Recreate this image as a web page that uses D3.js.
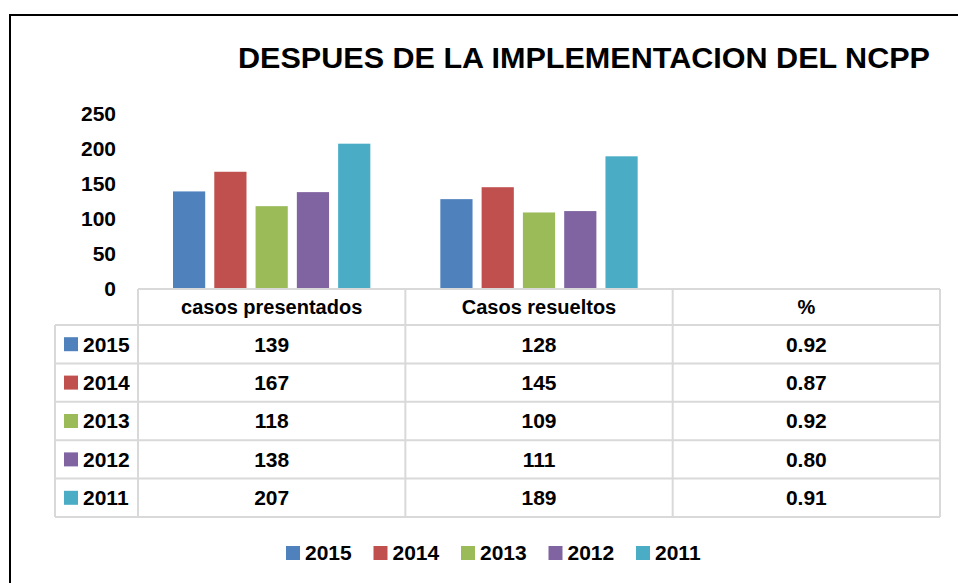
<!DOCTYPE html>
<html>
<head>
<meta charset="utf-8">
<script src="https://cdn.jsdelivr.net/npm/d3@7"></script>
<style>
  body { margin: 0; background: #fff; }
  text { font-family: "Liberation Sans", Arial, sans-serif; font-weight: bold; fill: #000; }
</style>
</head>
<body>
<div id="container"></div>
<script>
/* DATA */
const categories = ["casos presentados", "Casos resueltos", "%"]
const years = ["2015", "2014", "2013", "2012", "2011"]
const presentados = [139, 167, 118, 138, 207]
const resueltos = [128, 145, 109, 111, 189]
const porcentaje = [0.92, 0.87, 0.92, 0.80, 0.91]
const pctLabels = ["0.92", "0.87", "0.92", "0.80", "0.91"]
const yTicks = [0, 50, 100, 150, 200, 250]
const colors = ["#4F81BD", "#C0504D", "#9BBB59", "#8064A2", "#4BACC6"]

const seriesByCat = [presentados, resueltos, porcentaje]
const labelsByCat = [presentados.map(String), resueltos.map(String), pctLabels]

/* CONSTANTS */
const width = 958, height = 583
const plot = { left: 138, right: 940, top: 113.5, bottom: 289 }
const table = { keyLeft: 55, headTop: 289, headBottom: 325, bottom: 517 }
const gridColor = "#d9d9d9"

const svg = d3.select("#container").append("svg")
  .attr("width", width)
  .attr("height", height)

// outer chart frame (only top and left visible)
svg.append("path")
  .attr("d", `M10,${height} L10,15 L${width},15`)
  .attr("fill", "none")
  .attr("stroke", "#000")
  .attr("stroke-width", 2)

// TITLE
svg.append("text")
  .attr("x", 238)
  .attr("y", 68)
  .attr("font-size", 29)
  .attr("textLength", 692)
  .attr("lengthAdjust", "spacingAndGlyphs")
  .text("DESPUES DE LA IMPLEMENTACION DEL NCPP")

// SCALES
const xScale = d3.scaleBand()
  .domain(categories)
  .range([plot.left, plot.right])

const xInner = d3.scaleBand()
  .domain(years)
  .range([35, xScale.bandwidth() - 35])
  .paddingInner(0.22)

const yScale = d3.scaleLinear()
  .domain([0, 250])
  .range([plot.bottom, plot.top])

// Y AXIS (labels only)
const yAxis = d3.axisLeft(yScale)
  .tickValues(yTicks)
  .tickSize(0)
  .tickPadding(0)

const yAxisGroup = svg.append("g")
  .attr("transform", `translate(116, 0)`)
  .call(yAxis)
yAxisGroup.select(".domain").remove()
yAxisGroup.selectAll("text")
  .attr("font-size", 21)
  .attr("font-family", null)
  .attr("fill", "#000")

// BARS
const catGroups = svg.selectAll(".cat")
  .data(categories)
  .join("g")
  .attr("class", "cat")
  .attr("transform", d => `translate(${xScale(d)}, 0)`)

catGroups.selectAll("rect")
  .data((c, ci) => years.map((y, i) => ({ year: y, value: seriesByCat[ci][i], color: colors[i] })))
  .join("rect")
  .attr("x", d => xInner(d.year))
  .attr("width", xInner.bandwidth())
  .attr("y", d => yScale(d.value))
  .attr("height", d => yScale(0) - yScale(d.value))
  .attr("fill", d => d.color)

// DATA TABLE
const rowScale = d3.scaleBand()
  .domain(years)
  .range([table.headBottom, table.bottom])

const grid = svg.append("g")
  .attr("stroke", gridColor)
  .attr("stroke-width", 2)
  .attr("fill", "none")

// horizontal lines
grid.append("line")
  .attr("x1", plot.left).attr("x2", plot.right)
  .attr("y1", table.headTop).attr("y2", table.headTop)
rowScale.domain().forEach(y => {
  grid.append("line")
    .attr("x1", table.keyLeft).attr("x2", plot.right)
    .attr("y1", rowScale(y)).attr("y2", rowScale(y))
})
grid.append("line")
  .attr("x1", table.keyLeft).attr("x2", plot.right)
  .attr("y1", table.bottom).attr("y2", table.bottom)

// vertical lines
grid.append("line")
  .attr("x1", table.keyLeft).attr("x2", table.keyLeft)
  .attr("y1", table.headBottom).attr("y2", table.bottom)
categories.forEach(c => {
  grid.append("line")
    .attr("x1", xScale(c)).attr("x2", xScale(c))
    .attr("y1", table.headTop).attr("y2", table.bottom)
})
grid.append("line")
  .attr("x1", plot.right).attr("x2", plot.right)
  .attr("y1", table.headTop).attr("y2", table.bottom)

// header labels
svg.selectAll(".head")
  .data(categories)
  .join("text")
  .attr("class", "head")
  .attr("x", d => xScale(d) + xScale.bandwidth() / 2)
  .attr("y", (table.headTop + table.headBottom) / 2)
  .attr("dy", "0.35em")
  .attr("text-anchor", "middle")
  .attr("font-size", 20)
  .text(d => d)

// row keys
const rows = svg.selectAll(".row")
  .data(years)
  .join("g")
  .attr("class", "row")
  .attr("transform", d => `translate(0, ${rowScale(d) + rowScale.bandwidth() / 2})`)

rows.append("rect")
  .attr("x", 64)
  .attr("y", -7)
  .attr("width", 14)
  .attr("height", 14)
  .attr("fill", (d, i) => colors[i])

rows.append("text")
  .attr("x", 83)
  .attr("dy", "0.35em")
  .attr("font-size", 21)
  .text(d => d)

// cell values
rows.each(function (y, i) {
  d3.select(this).selectAll(".cell")
    .data(categories)
    .join("text")
    .attr("class", "cell")
    .attr("x", c => xScale(c) + xScale.bandwidth() / 2)
    .attr("dy", "0.35em")
    .attr("text-anchor", "middle")
    .attr("font-size", 21)
    .text((c, ci) => labelsByCat[ci][i])
})

// LEGEND
const legendX = d3.scalePoint()
  .domain(years)
  .range([286, 636])

const legend = svg.selectAll(".legend")
  .data(years)
  .join("g")
  .attr("class", "legend")
  .attr("transform", d => `translate(${legendX(d)}, 553)`)

legend.append("rect")
  .attr("y", -7)
  .attr("width", 14)
  .attr("height", 14)
  .attr("fill", (d, i) => colors[i])

legend.append("text")
  .attr("x", 19)
  .attr("dy", "0.35em")
  .attr("font-size", 21)
  .text(d => d)
</script>
</body>
</html>
